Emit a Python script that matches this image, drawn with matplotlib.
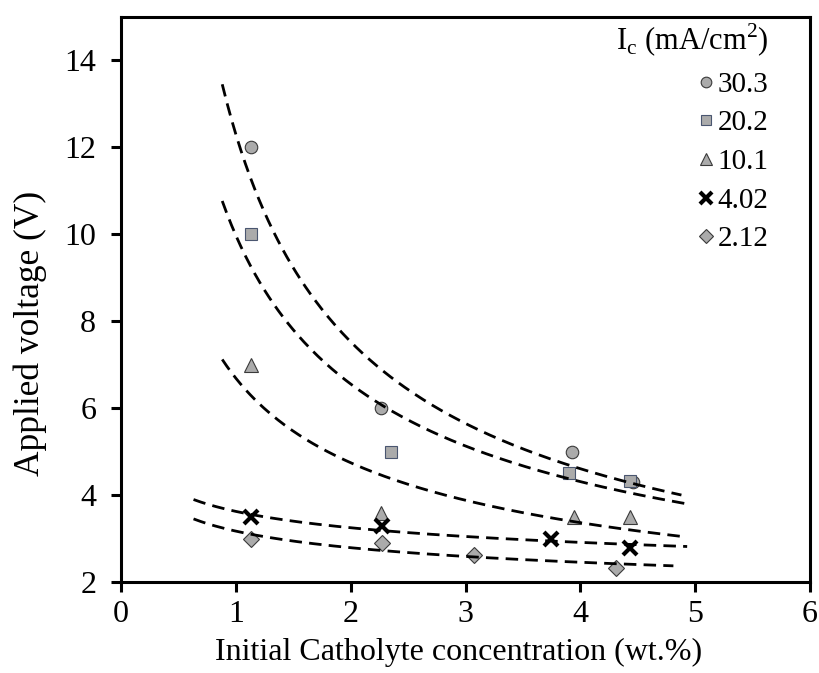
import numpy as np
import matplotlib
matplotlib.use("Agg")
import matplotlib.pyplot as plt

plt.rcParams["font.family"] = ["Liberation Serif", "DejaVu Serif"]

# current density labels (mA/cm2) and measured points
labels = ["30.3", "20.2", "10.1", "4.02", "2.12"]
conc = [
    [1.13, 2.26, 3.93, 4.46],
    [1.13, 2.35, 3.90, 4.43],
    [1.13, 2.26, 3.94, 4.43],
    [1.13, 2.27, 3.74, 4.43],
    [1.13, 2.27, 3.07, 4.31],
]
volt = [
    [12.0, 6.0, 5.0, 4.3],
    [10.0, 5.0, 4.52, 4.32],
    [7.0, 3.58, 3.49, 3.49],
    [3.49, 3.3, 2.99, 2.78],
    [3.0, 2.9, 2.62, 2.32],
]
# trendline extent (backward / forward forecast, wt.%)
back = [0.25, 0.25, 0.25, 0.5, 0.5]
fwd = [0.42, 0.5, 0.47, 0.5, 0.5]

styles = [
    dict(marker="o", ms=9, mfc="#ababab", mec="#3a3a3a", mew=0.8),
    dict(marker="s", ms=8.5, mfc="#ababab", mec="#4a5670", mew=0.8),
    dict(marker="^", ms=9.5, mfc="#ababab", mec="#3a3a3a", mew=0.8),
    dict(marker="x", ms=10, mfc="black", mec="black", mew=3.0),
    dict(marker="D", ms=8, mfc="#ababab", mec="#3a3a3a", mew=0.8),
]

fig = plt.figure(figsize=(8.19, 6.73), dpi=100)
ax = fig.add_axes([0.148, 0.135, 0.841, 0.840])

for x, y, lab, st in zip(conc, volt, labels, styles):
    ax.plot(x, y, ls="none", label=lab, zorder=3, **st)

# power-law trendlines y = a * x^b fitted in log space
for x, y, b0, f0 in zip(conc, volt, back, fwd):
    x = np.asarray(x)
    y = np.asarray(y)
    b, lna = np.polyfit(np.log(x), np.log(y), 1)
    xs = np.linspace(x.min() - b0, x.max() + f0, 200)
    ax.plot(xs, np.exp(lna) * xs ** b, color="black", lw=2.0,
            dashes=(4.5, 2.6), zorder=4)

ax.set_xlim(0, 6)
ax.set_ylim(2, 15)
ax.set_xticks(range(0, 7))
ax.set_yticks(range(2, 15, 2))
ax.tick_params(labelsize=23, width=2.2, length=7, direction="out")
ax.tick_params(axis="y", pad=11)
ax.tick_params(axis="x", pad=6)
for sp in ax.spines.values():
    sp.set_linewidth(2.2)

ax.set_xlabel("Initial Catholyte concentration (wt.%)", fontsize=23,
              va="center")
ax.xaxis.set_label_coords(0.49, -0.124)
ax.set_ylabel("Applied voltage (V)", fontsize=25.5, va="center")
ax.yaxis.set_label_coords(-0.132, 0.44)

leg = ax.legend(title=r"I$_\mathregular{c}$ (mA/cm$^\mathregular{2}$)",
                loc="upper right", frameon=False, fontsize=21,
                title_fontsize=22, markerscale=0.85, handlelength=0.5,
                handletextpad=0.15, labelspacing=0.42, borderaxespad=0.2,
                alignment="right", bbox_to_anchor=(0.965, 1.022))

fig.savefig("out.png", dpi=100)
